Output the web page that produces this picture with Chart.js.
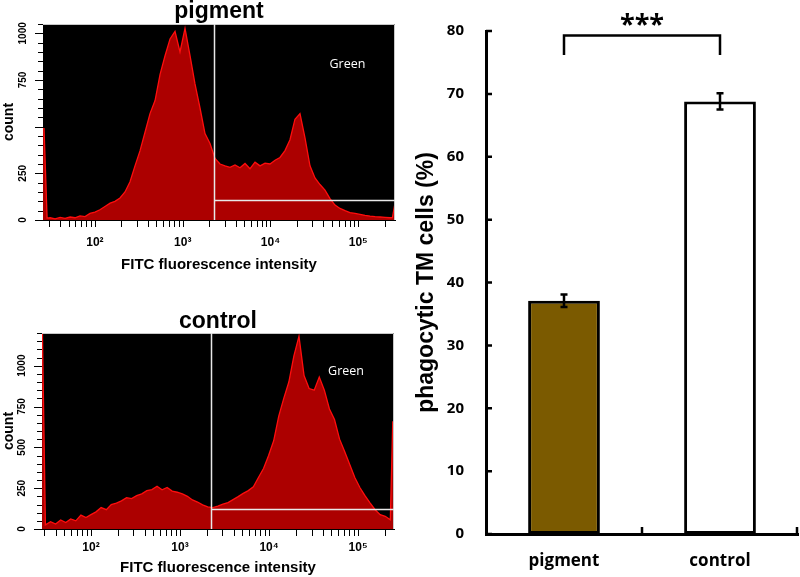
<!DOCTYPE html>
<html>
<head>
<meta charset="utf-8">
<script src="https://cdn.jsdelivr.net/npm/chart.js@4.4.1/dist/chart.umd.min.js"></script>
<style>
  html, body { margin: 0; padding: 0; background: #fff; }
  #wrap { position: relative; width: 800px; height: 577px; }
  canvas { position: absolute; }
</style>
</head>
<body>
<div id="wrap">
  <canvas id="pigmentHist" width="400" height="290" style="left:0;top:0"></canvas>
  <canvas id="controlHist" width="400" height="287" style="left:0;top:290px"></canvas>
  <canvas id="barChart" width="400" height="577" style="left:400px;top:0"></canvas>
</div>
<script>
// FITC intensity bins, shared by both histograms
const fitcBins = [25.6, 26.3, 28.5, 30.8, 35.2, 40.1, 45.7, 52.1, 59.3, 67.6, 77.1, 87.9,
  100, 114, 130, 149, 169, 193, 220, 251, 286, 326, 372, 424, 484, 552, 629, 717, 817, 931,
  1062, 1211, 1380, 1574, 1794, 2046, 2333, 2660, 3033, 3458, 3943, 4496, 5127, 5846, 6666, 7601, 8667, 9883,
  11270, 12830, 14630, 16680, 19010, 21680, 24720, 28180, 32140, 36640, 41780, 47640, 54320, 61940, 70630, 80540, 91840,
  104700, 119400, 136100, 155200, 177000, 201800, 230100, 245000, 262144];

const pigmentCounts = [490, 490, 10, 12, 6, 14, 9, 16, 12, 22, 18, 35,
  42, 55, 72, 90, 100, 118, 150, 205, 290, 370, 470, 570, 640, 780, 880, 970, 1010, 900,
  1027, 880, 729, 600, 463, 410, 330, 300, 290, 282, 295, 280, 303, 275, 310, 290, 305, 300,
  320, 335, 372, 430, 540, 570, 440, 290, 225, 190, 160, 115, 80, 62, 50, 40, 35,
  30, 25, 21, 18, 16, 14, 12, 13, 90];

const controlCounts = [1200, 1200, 1200, 26, 45, 30, 55, 40, 62, 50, 85, 70,
  88, 105, 131, 118, 149, 158, 172, 192, 186, 204, 215, 235, 241, 262, 240, 254, 232, 225,
  215, 200, 178, 165, 148, 135, 131, 140, 152, 162, 180, 198, 218, 235, 258, 315, 370, 450,
  540, 690, 800, 900, 1060, 1180, 940, 860, 850, 930, 850, 735, 670, 550, 475, 395, 315,
  254, 204, 160, 118, 88, 78, 57, 655, 655];

const pigmentCountTicks = [0, 250, 750, 1000];
const controlCountTicks = [0, 250, 500, 750, 1000];
const countMinorStep = 50;

// gate "Green"
const gateFitc = 2250;
const pigmentGateCount = 105;
const controlGateCount = 120;

// bar chart
const groups = ['pigment', 'control'];
const phagocyticPct = [37.1, 68.8];
const phagocyticErr = [1.0, 1.3];
const barColors = ['#7b5a00', '#ffffff'];
const percentTicks = [0, 10, 20, 30, 40, 50, 60, 70, 80];
const bracketTop = 79.3;
const bracketLeg = 76.2;
const signifText = '***';

const SUP = {1: '\u00b9', 2: '\u00b2', 3: '\u00b3', 4: '\u2074', 5: '\u2075'};

function logTicks(min, max) {
  const out = [];
  for (let e = 1; e <= 5; e++) {
    for (let k = 1; k <= 9; k++) {
      const v = k * Math.pow(10, e);
      if (v >= min && v <= max) out.push({value: v});
    }
  }
  return out;
}

// black plot area, gate lines, "Green" label, tick marks and rotated count labels
const histDecor = {
  id: 'histDecor',
  beforeDatasetsDraw(chart) {
    const {ctx, chartArea: a} = chart;
    ctx.save();
    ctx.fillStyle = '#000';
    ctx.fillRect(a.left, a.top, a.right - a.left, a.bottom - a.top);
    ctx.restore();
  },
  afterDatasetsDraw(chart, args, o) {
    const {ctx, chartArea: a, scales: {x, y}} = chart;
    ctx.save();
    ctx.strokeStyle = '#c8c8c8';
    ctx.lineWidth = 1;
    ctx.beginPath();
    ctx.moveTo(a.left, a.top + 0.5);
    ctx.lineTo(a.right - 0.5, a.top + 0.5);
    ctx.lineTo(a.right - 0.5, a.bottom);
    ctx.stroke();

    const gx = Math.round(x.getPixelForValue(o.gateX)) + 0.5;
    const gy = Math.round(y.getPixelForValue(o.gateY)) + 0.5;
    ctx.strokeStyle = '#e8e8e8';
    ctx.lineWidth = 1.5;
    ctx.beginPath();
    ctx.moveTo(gx, a.top);
    ctx.lineTo(gx, a.bottom);
    ctx.moveTo(gx, gy);
    ctx.lineTo(a.right, gy);
    ctx.stroke();

    ctx.fillStyle = '#fff';
    ctx.font = '12.5px "Open Sans"';
    ctx.textAlign = 'left';
    ctx.textBaseline = 'middle';
    ctx.fillText('Green', x.getPixelForValue(o.labelX), y.getPixelForValue(o.labelY));
    ctx.restore();
  },
  afterDraw(chart, args, o) {
    const {ctx, chartArea: a, scales: {x, y}} = chart;
    ctx.save();
    ctx.strokeStyle = '#000';
    ctx.lineWidth = 1;
    ctx.beginPath();
    logTicks(x.min, x.max).forEach(t => {
      const px = Math.round(x.getPixelForValue(t.value)) + 0.5;
      ctx.moveTo(px, a.bottom);
      ctx.lineTo(px, a.bottom + 7);
    });
    for (let v = 0; v <= y.max; v += countMinorStep) {
      const py = Math.round(y.getPixelForValue(v)) + 0.5;
      ctx.moveTo(a.left, py);
      ctx.lineTo(a.left - (v % 250 === 0 ? 8 : 5), py);
    }
    ctx.stroke();

    ctx.fillStyle = '#000';
    ctx.font = 'bold 10px Arial, "Liberation Sans"';
    ctx.textAlign = 'center';
    ctx.textBaseline = 'middle';
    o.countTicks.forEach(v => {
      ctx.save();
      ctx.translate(y.right - 20, y.getPixelForValue(v));
      ctx.rotate(-Math.PI / 2);
      ctx.fillText(String(v), 0, 0);
      ctx.restore();
    });
    ctx.restore();
  }
};

function histConfig(title, counts, o) {
  return {
    type: 'line',
    data: {
      datasets: [{
        data: fitcBins.map((f, i) => ({x: f, y: counts[i]})),
        borderColor: '#ff0d0d',
        borderWidth: 1.3,
        backgroundColor: '#ac0000',
        fill: 'origin',
        pointRadius: 0,
        tension: 0
      }]
    },
    options: {
      responsive: false,
      animation: false,
      layout: {padding: {right: o.padRight}},
      plugins: {
        legend: {display: false},
        tooltip: {enabled: false},
        title: {
          display: true, text: title, fullSize: false, color: '#000',
          font: {family: 'Arial, "Liberation Sans"', size: 23, weight: 'bold', lineHeight: 1},
          padding: o.titlePad
        },
        histDecor: {gateX: gateFitc, gateY: o.gateY, labelX: o.labelX, labelY: o.labelY, countTicks: o.countTicks}
      },
      scales: {
        x: {
          type: 'logarithmic', min: o.xMin, max: o.xMax,
          afterBuildTicks: s => { s.ticks = logTicks(s.min, s.max); },
          afterFit: s => { s.height = o.xHeight; },
          ticks: {
            autoSkip: false, maxRotation: 0, minRotation: 0, color: '#000', padding: o.xTickPad,
            font: {family: 'Arial, "Liberation Sans"', size: 12, weight: 'bold'},
            callback: v => {
              const e = Math.round(Math.log10(v));
              return Math.abs(v - Math.pow(10, e)) < 1e-6 ? '10' + SUP[e] : '';
            }
          },
          grid: {display: false, drawTicks: true, tickLength: 7},
          border: {color: '#000'},
          title: {
            display: true, text: 'FITC fluorescence intensity', color: '#000',
            font: {family: 'Arial, "Liberation Sans"', size: 15, weight: 'bold'},
            padding: {top: 0, bottom: o.xTitlePad}
          }
        },
        y: {
          min: 0, max: o.yMax,
          afterFit: s => { s.width = o.yWidth; },
          ticks: {stepSize: 250, callback: () => ''},
          grid: {display: false, drawTicks: true, tickLength: 6},
          border: {color: '#000'},
          title: {
            display: true, text: 'count', color: '#000',
            font: {family: 'Arial, "Liberation Sans"', size: 14, weight: 'bold'},
            padding: {top: 1, bottom: 0}
          }
        }
      }
    },
    plugins: [histDecor]
  };
}

new Chart(document.getElementById('pigmentHist'), histConfig('pigment', pigmentCounts, {
  padRight: 5, titlePad: {top: 0, bottom: 1}, xMin: 25.6, xMax: 262144, yMax: 1050,
  xHeight: 70, xTickPad: 8, xTitlePad: 16, yWidth: 43,
  gateY: pigmentGateCount, labelX: 47000, labelY: 835, countTicks: pigmentCountTicks
}));

new Chart(document.getElementById('controlHist'), histConfig('control', controlCounts, {
  padRight: 6, titlePad: {top: 20, bottom: 0}, xMin: 28.2, xMax: 253000, yMax: 1200,
  xHeight: 48, xTickPad: 4, xTitlePad: 0, yWidth: 42,
  gateY: controlGateCount, labelX: 46000, labelY: 965, countTicks: controlCountTicks
}));

// error bars, inward axis ticks, significance bracket
const barDecor = {
  id: 'barDecor',
  afterDraw(chart) {
    const {ctx, chartArea: a, scales: {x, y}} = chart;
    const bars = chart.getDatasetMeta(0).data;
    ctx.save();
    ctx.strokeStyle = '#000';
    ctx.lineWidth = 2.5;
    ctx.beginPath();
    percentTicks.forEach(v => {
      const py = y.getPixelForValue(v);
      ctx.moveTo(a.left, py);
      ctx.lineTo(a.left + 6, py);
    });
    const x0 = x.getPixelForValue(0), x1 = x.getPixelForValue(1);
    const half = (x1 - x0) / 2;
    [x0 + half, x1 + half - 1].forEach(px => {
      ctx.moveTo(px, a.bottom);
      ctx.lineTo(px, a.bottom - 7);
    });
    ctx.stroke();

    bars.forEach((b, i) => {
      const hi = y.getPixelForValue(phagocyticPct[i] + phagocyticErr[i]);
      const lo = y.getPixelForValue(phagocyticPct[i] - phagocyticErr[i]);
      ctx.beginPath();
      ctx.moveTo(b.x, hi); ctx.lineTo(b.x, lo);
      ctx.moveTo(b.x - 3.5, hi); ctx.lineTo(b.x + 3.5, hi);
      ctx.moveTo(b.x - 3.5, lo); ctx.lineTo(b.x + 3.5, lo);
      ctx.stroke();
    });

    const bt = y.getPixelForValue(bracketTop), bl = y.getPixelForValue(bracketLeg);
    ctx.beginPath();
    ctx.moveTo(bars[0].x, bl);
    ctx.lineTo(bars[0].x, bt);
    ctx.lineTo(bars[1].x, bt);
    ctx.lineTo(bars[1].x, bl);
    ctx.stroke();

    ctx.fillStyle = '#000';
    ctx.font = 'bold 27px "Open Sans"';
    ctx.textAlign = 'center';
    ctx.textBaseline = 'alphabetic';
    ctx.fillText(signifText, (bars[0].x + bars[1].x) / 2, bt - 2);
    ctx.restore();
  }
};

new Chart(document.getElementById('barChart'), {
  type: 'bar',
  data: {
    labels: groups,
    datasets: [{
      data: phagocyticPct,
      backgroundColor: barColors,
      borderColor: '#000',
      borderWidth: 3,
      borderSkipped: false,
      barPercentage: 0.46,
      categoryPercentage: 1
    }]
  },
  options: {
    responsive: false,
    animation: false,
    layout: {padding: {top: 23, right: 2}},
    plugins: {legend: {display: false}, tooltip: {enabled: false}},
    scales: {
      x: {
        afterFit: s => { s.height = 43; },
        grid: {display: false, drawTicks: false},
        border: {color: '#000', width: 3},
        ticks: {color: '#000', padding: 17, font: {family: '"Open Sans"', size: 17, weight: 'bold'}}
      },
      y: {
        min: 0, max: 80,
        afterFit: s => { s.width = 86; },
        grid: {display: false, drawTicks: false},
        border: {color: '#000', width: 3},
        ticks: {stepSize: 10, color: '#000', padding: 22, font: {family: '"Open Sans"', size: 15, weight: 'bold'}},
        title: {
          display: true, text: 'phagocytic TM cells (%)', color: '#000',
          font: {family: 'Arial, "Liberation Sans"', size: 23, weight: 'bold'},
          padding: {top: 13, bottom: 0}
        }
      }
    }
  },
  plugins: [barDecor]
});
</script>
</body>
</html>
